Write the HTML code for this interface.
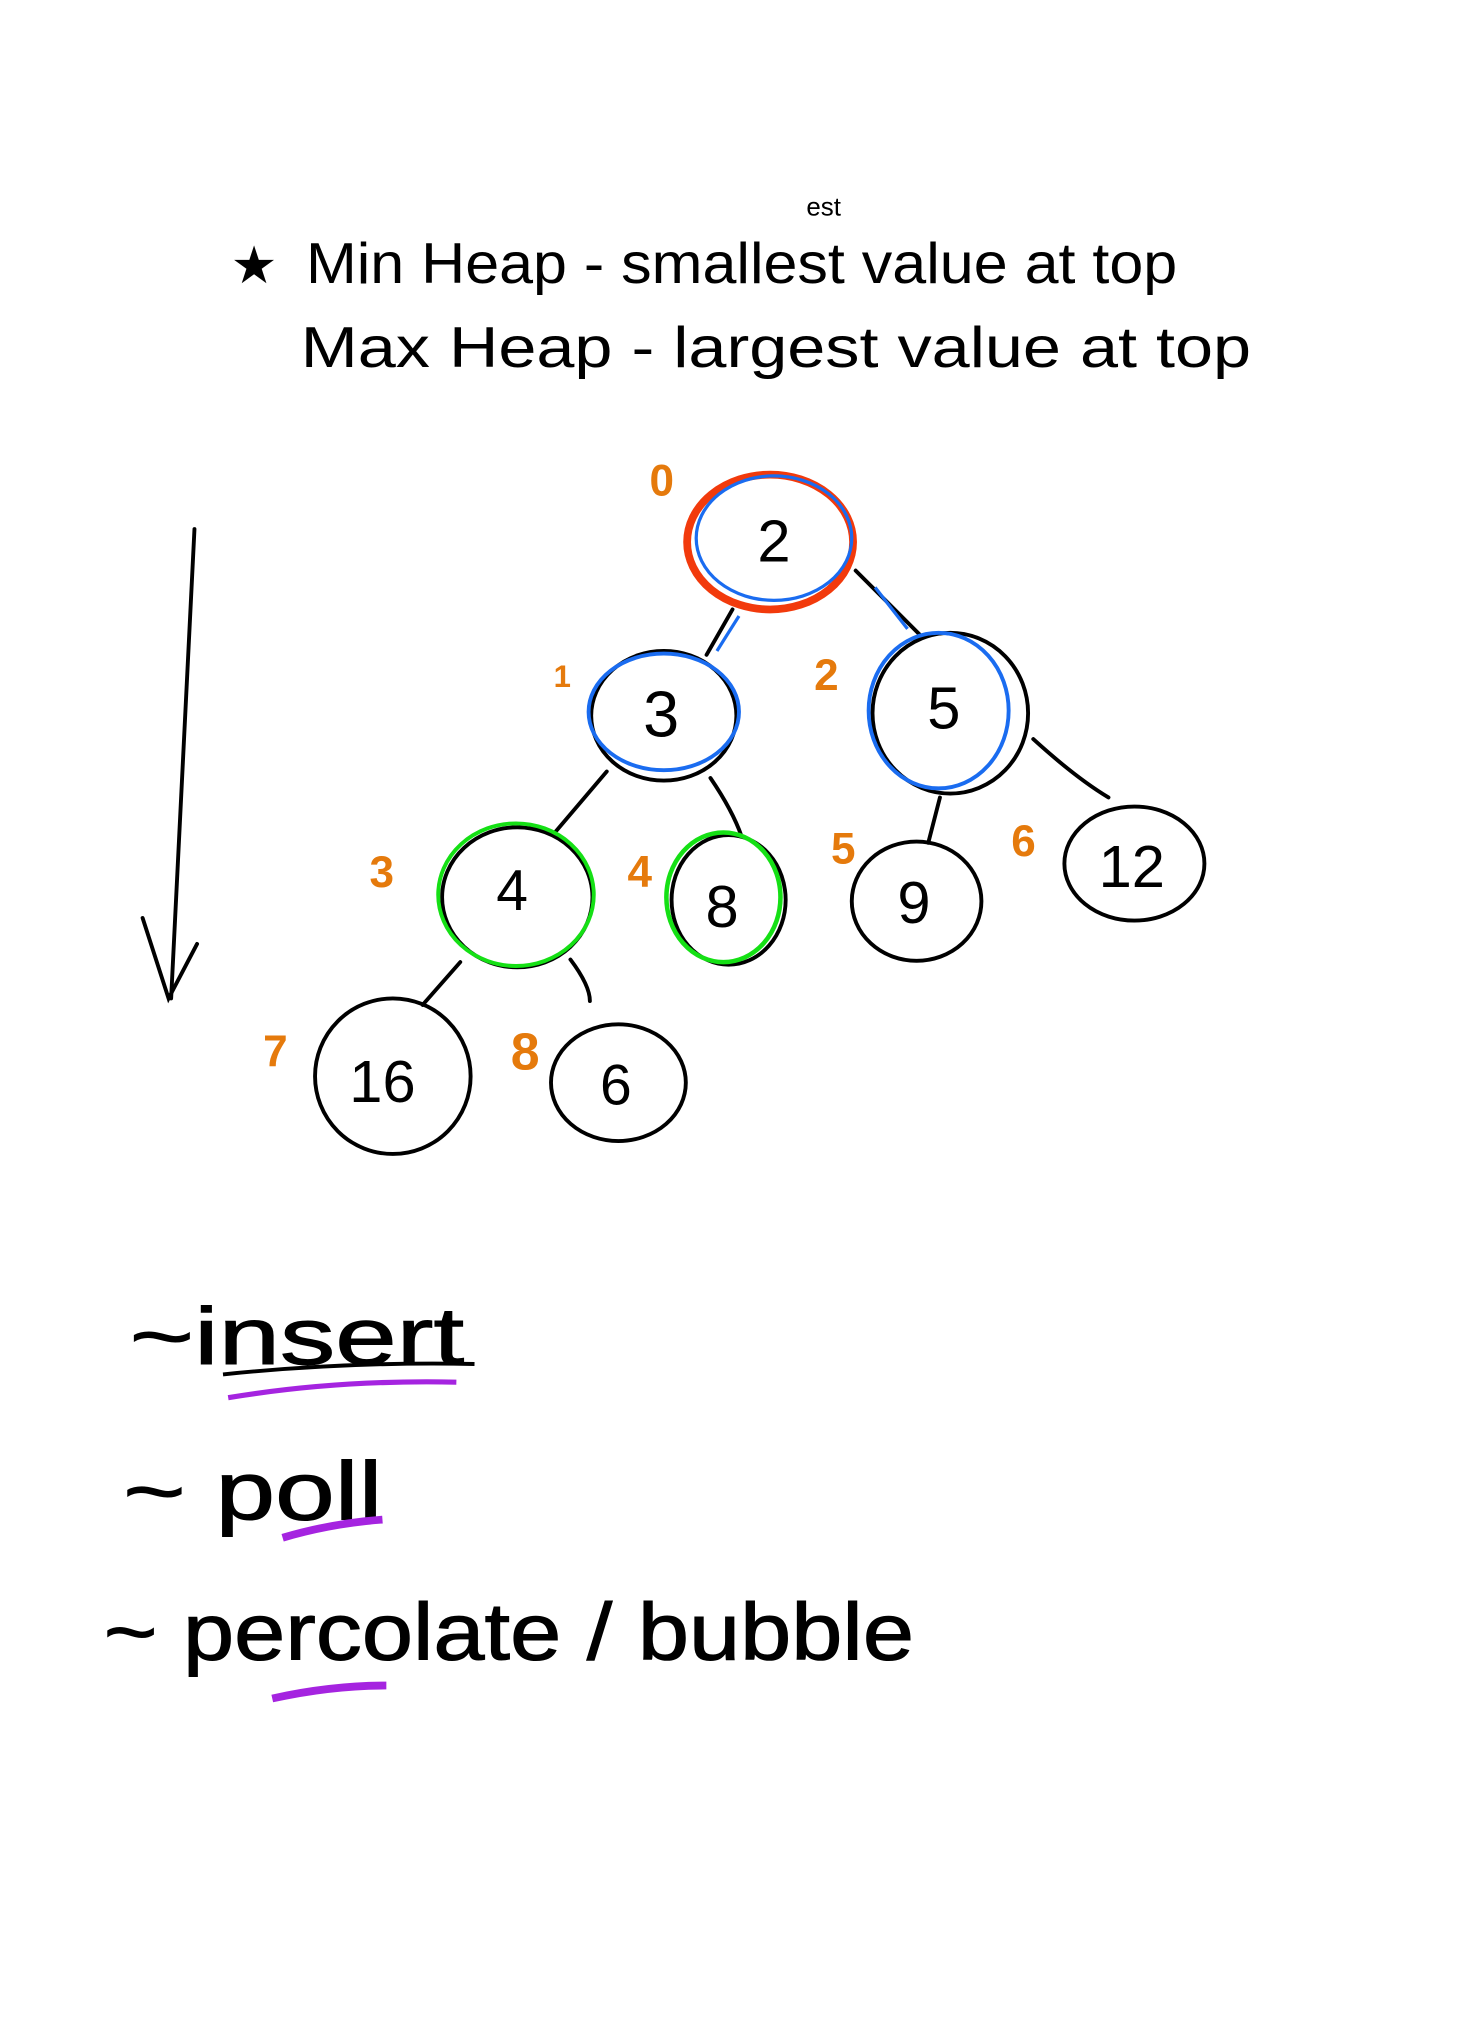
<!DOCTYPE html>
<html>
<head>
<meta charset="utf-8">
<style>
html,body{margin:0;padding:0;background:#fff;}
svg{display:block;}
text{font-family:"Liberation Sans",sans-serif;}
</style>
</head>
<body>
<svg width="1465" height="2037" viewBox="0 0 1130 1571" xmlns="http://www.w3.org/2000/svg">
  <rect width="1130" height="1571" fill="#fff"/>
  <g fill="#000">
    <text x="178" y="218" font-size="40">★</text>
    <text x="236" y="218" font-size="44" textLength="672" lengthAdjust="spacingAndGlyphs">Min Heap - smallest value at top</text>
    <text x="622" y="166" font-size="20">est</text>
    <text x="232" y="283" font-size="44" textLength="733" lengthAdjust="spacingAndGlyphs">Max Heap - largest value at top</text>
  </g>

  <g stroke="#000" stroke-width="3" fill="none" stroke-linecap="round">
    <path d="M150 408 L132 770"/>
    <path d="M110 708 L130 770 L152 728"/>
  </g>

  <g stroke="#000" stroke-width="3" fill="none" stroke-linecap="round">
    <path d="M565 470 L545 505"/>
    <path d="M660 440 Q690 470 710 490"/>
    <path d="M468 595 L428 642"/>
    <path d="M548 600 Q565 625 572 645"/>
    <path d="M725 615 L716 650"/>
    <path d="M797 570 Q830 600 855 615"/>
    <path d="M355 742 L326 775"/>
    <path d="M440 740 Q455 760 455 772"/>
  </g>
  <path d="M570 475 L553 502" stroke="#1a6cf0" stroke-width="2.5" fill="none"/>
  <path d="M675 453 L700 485" stroke="#1a6cf0" stroke-width="2.5" fill="none"/>

  <g>
    <ellipse cx="594" cy="418" rx="64" ry="52" fill="none" stroke="#f23a0c" stroke-width="6"/>
    <ellipse cx="597" cy="415" rx="60" ry="48" fill="none" stroke="#1a6cf0" stroke-width="2.5"/>
    <text x="597" y="433" font-size="46" text-anchor="middle">2</text>
  </g>
  <g>
    <ellipse cx="512" cy="552" rx="56" ry="50" fill="none" stroke="#000" stroke-width="3"/>
    <ellipse cx="512" cy="549" rx="58" ry="45" fill="none" stroke="#1a6cf0" stroke-width="3"/>
    <text x="510" y="568" font-size="50" text-anchor="middle">3</text>
  </g>
  <g>
    <ellipse cx="733" cy="550" rx="60" ry="62" fill="none" stroke="#000" stroke-width="3"/>
    <ellipse cx="724" cy="548" rx="54" ry="60" fill="none" stroke="#1a6cf0" stroke-width="3"/>
    <text x="728" y="562" font-size="46" text-anchor="middle">5</text>
  </g>
  <g>
    <ellipse cx="399" cy="692" rx="58" ry="54" fill="none" stroke="#000" stroke-width="3"/>
    <ellipse cx="398" cy="690" rx="60" ry="55" fill="none" stroke="#15e015" stroke-width="3"/>
    <text x="395" y="702" font-size="44" text-anchor="middle">4</text>
  </g>
  <g>
    <ellipse cx="562" cy="694" rx="44" ry="50" fill="none" stroke="#000" stroke-width="3"/>
    <ellipse cx="558" cy="692" rx="44" ry="50" fill="none" stroke="#15e015" stroke-width="3.5"/>
    <text x="557" y="715" font-size="46" text-anchor="middle">8</text>
  </g>
  <g>
    <ellipse cx="707" cy="695" rx="50" ry="46" fill="none" stroke="#000" stroke-width="3"/>
    <text x="705" y="712" font-size="46" text-anchor="middle">9</text>
  </g>
  <g>
    <ellipse cx="875" cy="666" rx="54" ry="44" fill="none" stroke="#000" stroke-width="3"/>
    <text x="873" y="684" font-size="46" text-anchor="middle">12</text>
  </g>
  <g>
    <ellipse cx="303" cy="830" rx="60" ry="60" fill="none" stroke="#000" stroke-width="3"/>
    <text x="295" y="850" font-size="46" text-anchor="middle">16</text>
  </g>
  <g>
    <ellipse cx="477" cy="835" rx="52" ry="45" fill="none" stroke="#000" stroke-width="3"/>
    <text x="475" y="852" font-size="44" text-anchor="middle">6</text>
  </g>

  <g fill="#e57a0c" font-size="34" font-weight="bold">
    <text x="501" y="382">0</text>
    <text x="427" y="530" font-size="24">1</text>
    <text x="628" y="532">2</text>
    <text x="285" y="684">3</text>
    <text x="484" y="684">4</text>
    <text x="641" y="666">5</text>
    <text x="780" y="660">6</text>
    <text x="203" y="822">7</text>
    <text x="394" y="825" font-size="40">8</text>
  </g>

  <g fill="#000" stroke="#000" stroke-width="0.8">
    <text x="100" y="1052" font-size="62" textLength="258" lengthAdjust="spacingAndGlyphs">~insert</text>
    <text x="95" y="1172" font-size="64" textLength="200" lengthAdjust="spacingAndGlyphs">~ poll</text>
    <text x="80" y="1280" font-size="62" textLength="625" lengthAdjust="spacingAndGlyphs">~ percolate / bubble</text>
  </g>
  <path d="M172 1060 Q270 1050 366 1052" stroke="#000" stroke-width="3" fill="none"/>
  <path d="M176 1078 Q260 1064 352 1066" stroke="#a524e0" stroke-width="4" fill="none"/>
  <path d="M218 1186 Q255 1175 295 1172" stroke="#a524e0" stroke-width="6" fill="none"/>
  <path d="M210 1310 Q255 1300 298 1300" stroke="#a524e0" stroke-width="6" fill="none"/>
</svg>
</body>
</html>
